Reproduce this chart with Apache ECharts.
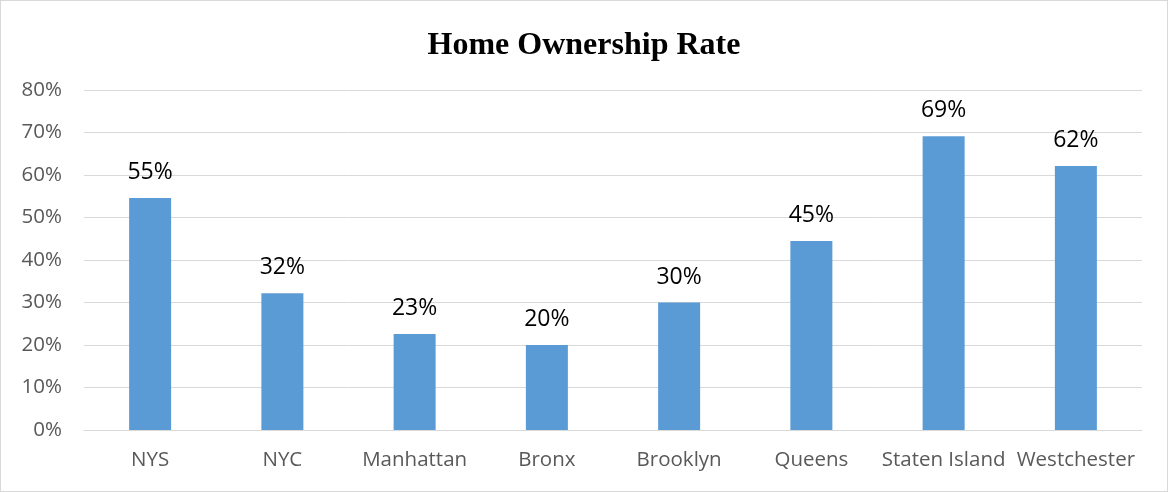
<!DOCTYPE html>
<html>
<head>
<meta charset="utf-8">
<script src="https://cdn.jsdelivr.net/npm/echarts@6/dist/echarts.min.js"></script>
<style>
  html, body { margin: 0; padding: 0; background: #fff; }
  #main { width: 1166px; height: 490px; border: 1px solid #d9d9d9; }
</style>
</head>
<body>
<div id="main"></div>
<script>
var categories = ["NYS", "NYC", "Manhattan", "Bronx", "Brooklyn", "Queens", "Staten Island", "Westchester"];
var ownershipRate = [54.6, 32.2, 22.6, 20.0, 30.0, 44.5, 69.1, 62.1];
var yTicks = [0, 10, 20, 30, 40, 50, 60, 70, 80];

var chartDom = document.getElementById("main");
var myChart = echarts.init(chartDom);
var option = {
  animation: false,
  title: {
    text: "Home Ownership Rate",
    left: "center",
    top: 24,
    textStyle: {
      fontFamily: "Liberation Serif",
      fontWeight: "bold",
      fontSize: 32,
      color: "#000"
    }
  },
  grid: {
    left: 83,
    right: 25,
    top: 89,
    bottom: 61
  },
  xAxis: {
    type: "category",
    data: categories,
    axisTick: { show: false },
    axisLine: { lineStyle: { color: "#d9d9d9", width: 1 } },
    axisLabel: {
      color: "#595959",
      fontFamily: "Open Sans",
      fontSize: 20.5,
      margin: 20,
      interval: 0
    }
  },
  yAxis: {
    type: "value",
    min: yTicks[0],
    max: yTicks[yTicks.length - 1],
    interval: 10,
    axisLine: { show: false },
    axisTick: { show: false },
    splitLine: { lineStyle: { color: "#d9d9d9", width: 1 } },
    axisLabel: {
      color: "#595959",
      fontFamily: "Open Sans",
      fontSize: 20.5,
      margin: 22,
      formatter: "{value}%"
    }
  },
  series: [
    {
      type: "bar",
      data: ownershipRate,
      barWidth: 42,
      itemStyle: { color: "#5b9bd5" },
      label: {
        show: true,
        position: "top",
        distance: 14,
        color: "#000",
        fontFamily: "Open Sans",
        fontSize: 23,
        formatter: function (p) {
          return Math.round(p.value) + "%";
        }
      }
    }
  ]
};
option && myChart.setOption(option);
</script>
</body>
</html>
